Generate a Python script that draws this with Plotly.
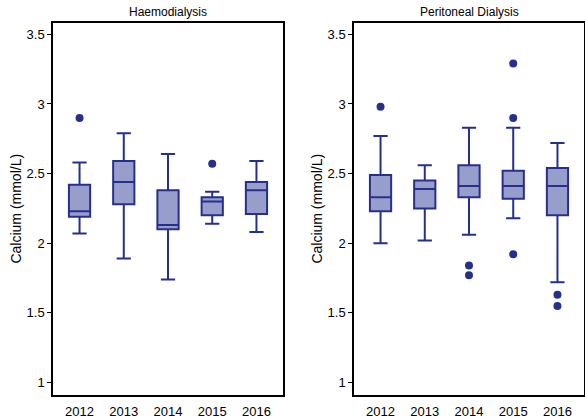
import plotly.graph_objects as go

years = ["2012", "2013", "2014", "2015", "2016"]

# Haemodialysis calcium summary (mmol/L)
hd_low = [2.07, 1.89, 1.74, 2.14, 2.08]
hd_q1 = [2.19, 2.28, 2.10, 2.20, 2.21]
hd_med = [2.23, 2.44, 2.13, 2.30, 2.38]
hd_q3 = [2.42, 2.59, 2.38, 2.33, 2.44]
hd_high = [2.58, 2.79, 2.64, 2.37, 2.59]
hd_out_x = ["2012", "2015"]
hd_out_y = [2.90, 2.57]

# Peritoneal dialysis calcium summary (mmol/L)
pd_low = [2.00, 2.02, 2.06, 2.18, 1.72]
pd_q1 = [2.23, 2.25, 2.33, 2.32, 2.20]
pd_med = [2.33, 2.39, 2.41, 2.41, 2.41]
pd_q3 = [2.49, 2.45, 2.56, 2.52, 2.54]
pd_high = [2.77, 2.56, 2.83, 2.83, 2.72]
pd_out_x = ["2012", "2014", "2014", "2015", "2015", "2015", "2016", "2016"]
pd_out_y = [2.98, 1.84, 1.77, 3.29, 2.90, 1.92, 1.63, 1.55]

line_col = "rgb(38,48,140)"
fill_col = "rgb(152,158,204)"
font_fam = "Arial, Liberation Sans, sans-serif"

fig = go.Figure()


def add_panel(low, q1, med, q3, high, ox, oy, xa, ya):
    fig.add_trace(go.Box(
        x=years, q1=q1, median=med, q3=q3, lowerfence=low, upperfence=high,
        fillcolor=fill_col, line=dict(color=line_col, width=2),
        width=0.48, whiskerwidth=0.67, boxpoints=False,
        xaxis=xa, yaxis=ya, showlegend=False, hoverinfo="skip",
    ))
    fig.add_trace(go.Scatter(
        x=ox, y=oy, mode="markers",
        marker=dict(color=line_col, size=8),
        xaxis=xa, yaxis=ya, showlegend=False, hoverinfo="skip",
    ))


add_panel(hd_low, hd_q1, hd_med, hd_q3, hd_high, hd_out_x, hd_out_y, "x", "y")
add_panel(pd_low, pd_q1, pd_med, pd_q3, pd_high, pd_out_x, pd_out_y, "x2", "y2")

y_top = 1 - 22.5 / 419
y_bot = 1 - 395 / 419

xax = dict(
    type="category", categoryorder="array", categoryarray=years,
    range=[-0.6, 4.6], showline=True, mirror=True, linecolor="black",
    linewidth=1.5, ticks="outside", ticklen=4, tickcolor="rgba(0,0,0,0)",
    showgrid=False, zeroline=False,
    tickfont=dict(size=13, color="black", family=font_fam),
)
yax = dict(
    range=[0.91, 3.585], tickvals=[1, 1.5, 2, 2.5, 3, 3.5],
    ticktext=["1", "1.5", "2", "2.5", "3", "3.5"],
    showline=True, mirror=True, linecolor="black", linewidth=1.5,
    ticks="outside", ticklen=4, tickcolor="black", showgrid=False,
    zeroline=False, domain=[y_bot, y_top],
    tickfont=dict(size=13, color="black", family=font_fam),
    title=dict(text="Calcium (mmol/L)", standoff=2,
               font=dict(size=14, color="black", family=font_fam)),
)

fig.update_layout(
    width=585, height=419,
    margin=dict(l=0, r=0, t=0, b=0),
    paper_bgcolor="white", plot_bgcolor="white",
    font=dict(family=font_fam, color="black"),
    xaxis=dict(xax, domain=[53 / 585, 283 / 585], anchor="y"),
    yaxis=dict(yax, anchor="x"),
    xaxis2=dict(xax, domain=[354 / 585, 584 / 585], anchor="y2"),
    yaxis2=dict(yax, anchor="x2"),
    annotations=[
        dict(text="Haemodialysis", x=(53 + 283) / 2 / 585, y=1 - 12 / 419,
             xref="paper", yref="paper", xanchor="center", yanchor="middle",
             showarrow=False,
             font=dict(size=12, color="black", family=font_fam)),
        dict(text="Peritoneal Dialysis", x=(354 + 584) / 2 / 585, y=1 - 12 / 419,
             xref="paper", yref="paper", xanchor="center", yanchor="middle",
             showarrow=False,
             font=dict(size=12, color="black", family=font_fam)),
    ],
)

fig.write_html("out.html")
